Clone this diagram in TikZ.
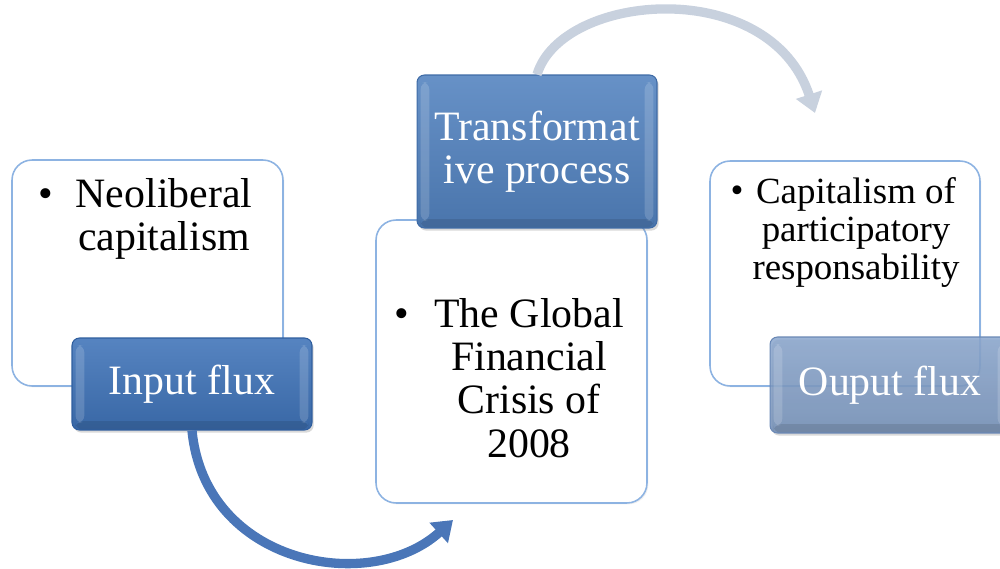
\documentclass[tikz,border=0pt]{standalone}
\usepackage{fontspec}
\setmainfont{Liberation Serif}
\usetikzlibrary{arrows.meta,shadows,calc}
\definecolor{boxedge}{HTML}{8DB3E2}
\definecolor{bluemain}{HTML}{3F73B8}
\definecolor{bluedark}{HTML}{2F5E9E}
\definecolor{transmain}{HTML}{5282BF}
\definecolor{transdark}{HTML}{3F6BA6}
\definecolor{outmain}{HTML}{7B9BC8}
\definecolor{outdark}{HTML}{6A88B5}
\definecolor{arrowblue}{HTML}{4A76B8}
\definecolor{arrowgrey}{HTML}{C8D1DE}
\newcommand\bigfont{\fontsize{23.8}{24.6}\selectfont}
\newcommand\smallerfont{\fontsize{21}{21.6}\selectfont}
\tikzset{
  whitebox/.style={draw=boxedge, line width=0.9pt, fill=white, rounded corners=0.4cm,
    inner sep=0pt, drop shadow={opacity=0.12, shadow xshift=0.8pt, shadow yshift=-0.8pt}},
  bluebox/.style 2 args={draw=#2, line width=0.6pt, rounded corners=0.15cm,
    top color=#1!88!white, bottom color=#1!90!black, text=white, inner sep=0pt,
    align=center, font=\bigfont,
    drop shadow={opacity=0.3, shadow xshift=1pt, shadow yshift=-1.5pt},
    path picture={
      \fill[white,opacity=0.16] ([xshift=2pt,yshift=-4pt]path picture bounding box.north west)
        rectangle ([xshift=7pt,yshift=4pt]path picture bounding box.south west);
      \fill[white,opacity=0.16] ([xshift=-2pt,yshift=-4pt]path picture bounding box.north east)
        rectangle ([xshift=-7pt,yshift=4pt]path picture bounding box.south east);
      \fill[black,opacity=0.1] ([xshift=2pt,yshift=5pt]path picture bounding box.south west)
        rectangle ([xshift=-2pt]path picture bounding box.south east);
    }},
  boxtext/.style={anchor=north, align=center, inner sep=0pt, font=\bigfont},
  bulletmark/.style={anchor=base, inner sep=0pt, font=\bigfont},
  flow/.style={line width=5.3pt, -{Triangle[width=15pt,length=11pt]}},
}
\begin{document}
\begin{tikzpicture}[x=0.02cm, y=-0.02cm]
\useasboundingbox (0,0) rectangle (1000,568);
\clip (0,0) rectangle (1000,568);

% left column
\node[whitebox, minimum width=5.42cm, minimum height=4.52cm] (inbox) at (147.5,273) {};
\node[bulletmark] (inbul) at (46,207) {•};
\node[boxtext] (intext) at (164,178) {Neoliberal\\capitalism};
\node[bluebox={bluemain}{bluedark}, minimum width=4.8cm, minimum height=1.84cm] (input) at (192,384) {Input flux};

% middle column
\node[whitebox, minimum width=5.42cm, minimum height=5.66cm] (midbox) at (511.5,361.5) {};
\node[bulletmark] (midbul) at (402,327) {•};
\node[boxtext] (midtext) at (529,298) {The Global\\Financial\\Crisis of\\2008};
\node[bluebox={transmain}{transdark}, minimum width=4.8cm, minimum height=3.06cm] (trans) at (537,151.5) {Transformat\\ive process};

% right column
\node[whitebox, minimum width=5.4cm, minimum height=4.5cm] (outbox) at (845,273.5) {};
\node[bulletmark, font=\smallerfont] (outbul) at (737,202) {•};
\node[boxtext, font=\smallerfont] (outtext) at (856,177) {Capitalism of\\participatory\\responsability};
\node[bluebox={outmain}{outdark}, fill opacity=0.85, text opacity=1, minimum width=4.8cm, minimum height=1.92cm] (output) at (890,385) {Ouput flux};

% connectors
\coordinate (botend) at (453,520);
\coordinate (topend) at (815,113);
\draw[flow, arrowblue] (input.south) .. controls (205,565) and (370,595) .. (botend);
\draw[flow, arrowgrey] (trans.north) .. controls (562,-8) and (770,-25) .. (topend);
\end{tikzpicture}
\end{document}
